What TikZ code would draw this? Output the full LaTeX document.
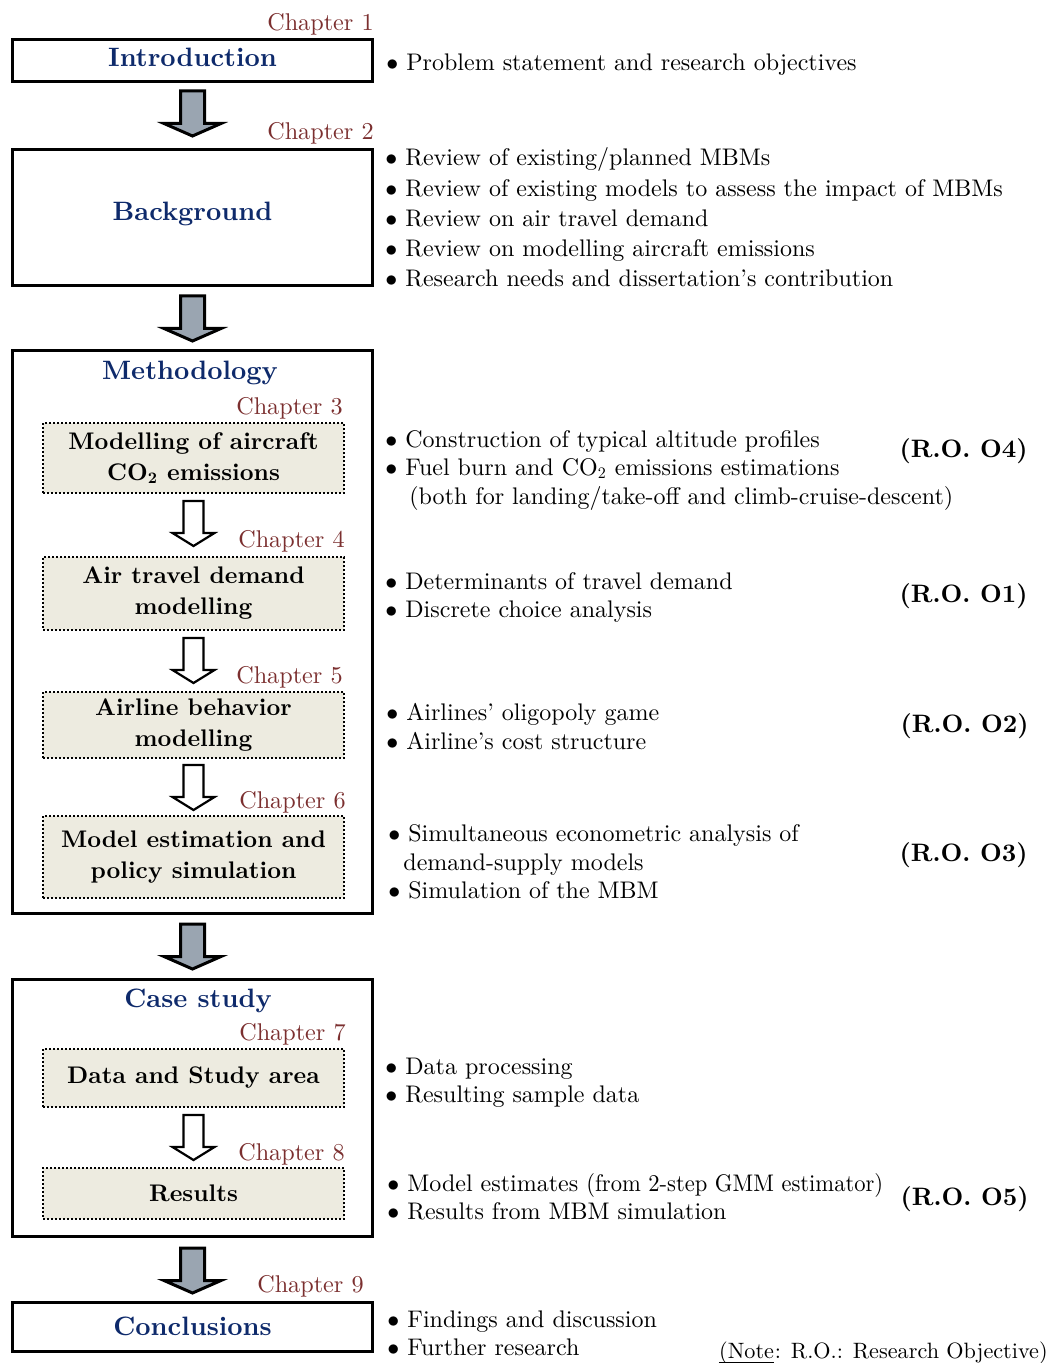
\documentclass[tikz,border=0pt]{standalone}
\usepackage{fontspec}
\setmainfont{lmroman10-regular}[Extension=.otf, BoldFont=lmroman10-bold, ItalicFont=lmroman10-italic, BoldItalicFont=lmroman10-bolditalic]
\usetikzlibrary{calc}
\definecolor{navy}{HTML}{0E2A6B}
\definecolor{chapred}{HTML}{7B2F2F}
\definecolor{beige}{HTML}{EDEBE0}
\definecolor{arrgray}{HTML}{9AA5B1}
\tikzset{
  outerbox/.style={draw, line width=1.5pt, minimum width=180pt, inner sep=0pt},
  titletxt/.style={font=\fontsize{13.3}{16}\selectfont\bfseries, text=navy},
  inbox/.style={draw, line width=1pt, dash pattern=on 1pt off 1pt, fill=beige,
    minimum width=150.5pt, inner sep=0pt, align=center,
    font=\fontsize{12}{15.5}\selectfont\bfseries},
  chap/.style={anchor=east, inner sep=0pt, text=chapred, font=\fontsize{12.1}{14}\selectfont},
  bul/.style={anchor=west, inner sep=0pt, text height=8.6pt, text depth=2.6pt,
    yshift=-1pt, font=\fontsize{12}{14}\selectfont},
  notetxt/.style={anchor=base east, inner sep=0pt, font=\fontsize{11.1}{13}\selectfont},
  rolab/.style={anchor=east, inner sep=0pt, yshift=-1pt, font=\fontsize{12.6}{15}\selectfont\bfseries},
  grayarr/.pic={\draw[line width=1.5pt, fill=arrgray, line join=miter]
    (-12,1) -- (12,1) -- (12,33.5) -- (28.5,33.5) -- (0,46) -- (-28.5,33.5) -- (-12,33.5) -- cycle;},
  whitearr/.pic={\draw[line width=1.1pt, fill=white, line join=miter]
    (-10,1) -- (10,1) -- (10,33) -- (21,33) -- (0,46) -- (-21,33) -- (-10,33) -- cycle;}
}
\begin{document}
\begin{tikzpicture}[x=0.5pt,y=-0.5pt]
\useasboundingbox (0,0) rectangle (1051,1363);

% main boxes
\node[outerbox, minimum height=21pt] (intro) at (192.5,60.5) {};
\node[titletxt] (introt) at (192.5,57) {Introduction};
\node[outerbox, minimum height=68pt] (bg) at (192.5,217.5) {};
\node[titletxt] (bgt) at (192.5,214) {Background};
\node[outerbox, minimum height=281.5pt] (meth) at (192.5,632) {};
\node[titletxt] (metht) at (190,373) {Methodology};
\node[outerbox, minimum height=128.5pt] (case) at (192.5,1108) {};
\node[titletxt] (caset) at (198,1001) {Case study};
\node[outerbox, minimum height=24.5pt] (concl) at (192.5,1327) {};
\node[titletxt] (conclt) at (192.5,1326) {Conclusions};

% inner boxes
\node[inbox, minimum height=35pt] (b1) at (193.5,458) {Modelling of aircraft\\CO\textsubscript{2} emissions};
\node[inbox, minimum height=36.5pt] (b2) at (193.5,593.5) {Air travel demand\\modelling};
\node[inbox, minimum height=33pt] (b3) at (193.5,725) {Airline behavior\\modelling};
\node[inbox, minimum height=41pt] (b4) at (193.5,857) {Model estimation and\\policy simulation};
\node[inbox, minimum height=29pt] (b5) at (193.5,1078) {Data and Study area};
\node[inbox, minimum height=25.5pt] (b6) at (193.5,1193.5) {Results};

% chapter labels
\node[chap] (c1) at (374,24) {Chapter 1};
\node[chap] (c2) at (374,133) {Chapter 2};
\node[chap] (c3) at (343,408) {Chapter 3};
\node[chap] (c4) at (345,541) {Chapter 4};
\node[chap] (c5) at (343,677) {Chapter 5};
\node[chap] (c6) at (346,802) {Chapter 6};
\node[chap] (c7) at (346,1034) {Chapter 7};
\node[chap] (c8) at (345,1154) {Chapter 8};
\node[chap] (c9) at (364,1286) {Chapter 9};

% arrows
\pic at ($(intro.south)+(0,7)$) {grayarr};
\pic at ($(bg.south)+(0,8)$) {grayarr};
\pic at ($(meth.south)+(0,8)$) {grayarr};
\pic at ($(case.south)+(0,9)$) {grayarr};
\pic at ($(b1.south)+(0,6)$) {whitearr};
\pic at ($(b2.south)+(0,6)$) {whitearr};
\pic at ($(b3.south)+(0,5)$) {whitearr};
\pic at ($(b5.south)+(0,6)$) {whitearr};

% bullet texts
\node[bul] (t1) at (386,63) {$\bullet$ Problem statement and research objectives};
\node[bul] (t2) at (385,158) {$\bullet$ Review of existing/planned MBMs};
\node[bul] (t3) at (385,189) {$\bullet$ Review of existing models to assess the impact of MBMs};
\node[bul] (t4) at (385,219) {$\bullet$ Review on air travel demand};
\node[bul] (t5) at (385,249) {$\bullet$ Review on modelling aircraft emissions};
\node[bul] (t6) at (385,279) {$\bullet$ Research needs and dissertation’s contribution};
\node[bul] (t7) at (385,439) {$\bullet$ Construction of typical altitude profiles};
\node[bul] (t8) at (385,467) {$\bullet$ Fuel burn and CO\textsubscript{2} emissions estimations};
\node[bul] (t9) at (409,496) {(both for landing/take-off and climb-cruise-descent)};
\node[bul] (t10) at (385,581) {$\bullet$ Determinants of travel demand};
\node[bul] (t11) at (385,609) {$\bullet$ Discrete choice analysis};
\node[bul] (t12) at (386,712) {$\bullet$ Airlines’ oligopoly game};
\node[bul] (t13) at (386,741) {$\bullet$ Airline’s cost structure};
\node[bul] (t14) at (388,833) {$\bullet$ Simultaneous econometric analysis of};
\node[bul] (t15) at (403,862) {demand-supply models};
\node[bul] (t16) at (388,890) {$\bullet$ Simulation of the MBM};
\node[bul] (t17) at (385,1066) {$\bullet$ Data processing};
\node[bul] (t18) at (385,1094) {$\bullet$ Resulting sample data};
\node[bul] (t19) at (387,1183) {$\bullet$ Model estimates \scalebox{0.94}[1]{(from 2-step GMM estimator)}};
\node[bul] (t20) at (387,1211) {$\bullet$ Results from MBM simulation};
\node[bul] (t21) at (387,1319) {$\bullet$ Findings and discussion};
\node[bul] (t22) at (387,1347) {$\bullet$ Further research};

% note
\node[notetxt] (noteb) at (1048,1358) {: R.O.: Research Objective)};
\node[notetxt] (notea) at (noteb.base west) {(Note};
\draw[line width=0.7pt] ($(notea.base west)+(0,5)$) -- ($(notea.base east)+(0,5)$);

% research objective labels
\node[rolab] (ro4) at (1028,449) {(R.O. O4)};
\node[rolab] (ro1) at (1028,594) {(R.O. O1)};
\node[rolab] (ro2) at (1029,724) {(R.O. O2)};
\node[rolab] (ro3) at (1028,853) {(R.O. O3)};
\node[rolab] (ro5) at (1029,1197) {(R.O. O5)};
\end{tikzpicture}
\end{document}
